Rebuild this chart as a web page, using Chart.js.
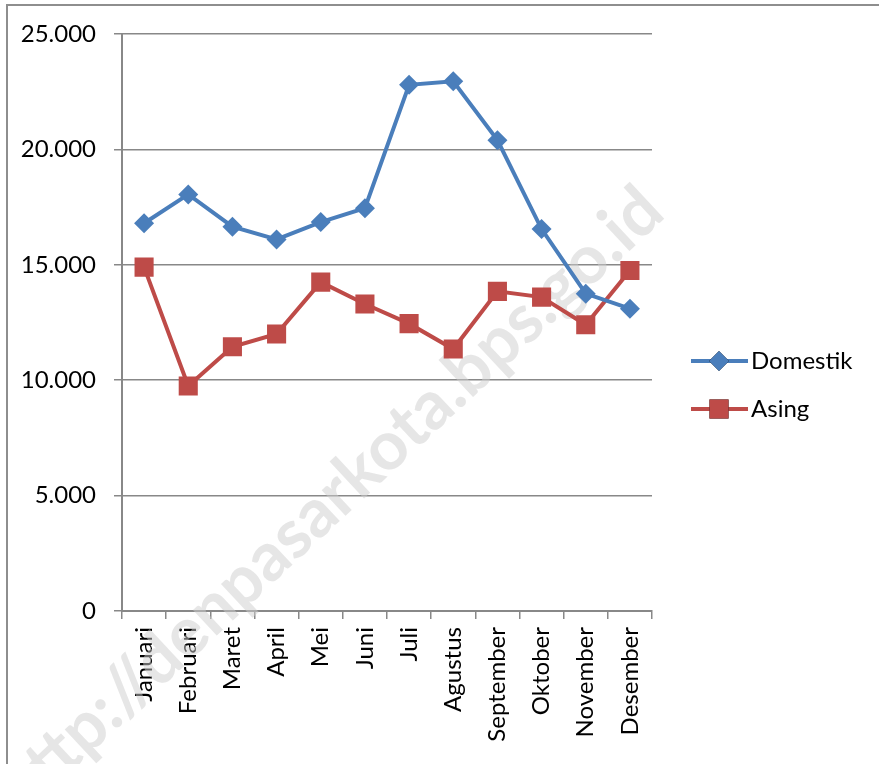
<!DOCTYPE html>
<html>
<head>
<meta charset="utf-8">
<script src="https://cdn.jsdelivr.net/npm/chart.js@4/dist/chart.umd.min.js"></script>
<style>
  html, body { margin: 0; padding: 0; overflow: hidden; background: #fff; }
  #wrap { position: relative; width: 879px; height: 764px; overflow: hidden; }
  #frame { position: absolute; left: 6px; top: 4px; width: 2000px; height: 2000px;
           border-left: 2px solid #8e8e8e; border-top: 2px solid #8e8e8e; box-sizing: border-box; }
  canvas { position: absolute; left: 0; top: 0; }
</style>
</head>
<body>
<div id="wrap">
  <div id="frame"></div>
  <canvas id="c" width="879" height="764"></canvas>
</div>
<script>
const months = ['Januari','Februari','Maret','April','Mei','Juni','Juli','Agustus','September','Oktober','November','Desember'];
const domestik = [16800, 18050, 16650, 16100, 16850, 17450, 22800, 22950, 20400, 16550, 13750, 13100];
const asing = [14900, 9750, 11450, 12000, 14250, 13300, 12450, 11350, 13850, 13600, 12400, 14750];
const seriesNames = ['Domestik', 'Asing'];
const yTicks = [0, 5000, 10000, 15000, 20000, 25000];
const watermark = 'http://denpasarkota.bps.go.id';

const BLUE = '#4A7EBB';
const RED = '#BE4B48';
const FONT = 'Lato, "Open Sans", sans-serif';

function fmt(v) {
  return String(v).replace(/\B(?=(\d{3})+(?!\d))/g, '.');
}

const watermarkPlugin = {
  id: 'watermark',
  beforeDatasetsDraw(chart) {
    const ctx = chart.ctx;
    ctx.save();
    ctx.translate(330, 500);
    ctx.rotate(-0.75);
    ctx.font = 'bold 68px ' + FONT;
    ctx.fillStyle = 'rgba(205,205,205,0.5)';
    ctx.textAlign = 'center';
    ctx.textBaseline = 'middle';
    ctx.fillText(watermark, 0, 0);
    ctx.restore();
  }
};

const legendPlugin = {
  id: 'customLegend',
  afterDraw(chart) {
    const ctx = chart.ctx;
    const items = [
      { y: 361, ds: chart.data.datasets[0] },
      { y: 409, ds: chart.data.datasets[1] }
    ];
    items.forEach(it => {
      ctx.save();
      ctx.strokeStyle = it.ds.borderColor;
      ctx.lineWidth = 4;
      ctx.beginPath();
      ctx.moveTo(691, it.y);
      ctx.lineTo(748, it.y);
      ctx.stroke();
      Chart.helpers.drawPoint(ctx, {
        pointStyle: it.ds.pointStyle,
        radius: it.ds.pointRadius,
        borderWidth: 0
      }, 719, it.y);
      ctx.fillStyle = it.ds.backgroundColor;
      ctx.fill();
      ctx.fillStyle = '#000';
      ctx.font = '24px ' + FONT;
      ctx.textBaseline = 'middle';
      ctx.textAlign = 'left';
      ctx.fillText(it.ds.label, 751, it.y);
      ctx.restore();
    });
  }
};

new Chart(document.getElementById('c'), {
  type: 'line',
  data: {
    labels: months,
    datasets: [
      {
        label: seriesNames[0],
        data: domestik,
        borderColor: BLUE,
        backgroundColor: BLUE,
        borderWidth: 4,
        pointStyle: 'rectRot',
        pointRadius: 10,
        pointHoverRadius: 10,
        pointBorderWidth: 0,
        tension: 0
      },
      {
        label: seriesNames[1],
        data: asing,
        borderColor: RED,
        backgroundColor: RED,
        borderWidth: 4,
        pointStyle: 'rect',
        pointRadius: 13.5,
        pointHoverRadius: 13.5,
        pointBorderWidth: 0,
        tension: 0
      }
    ]
  },
  options: {
    responsive: false,
    animation: false,
    devicePixelRatio: 1,
    layout: { padding: { left: 0, top: 34, right: 227, bottom: 0 } },
    plugins: {
      legend: { display: false },
      tooltip: { enabled: false }
    },
    scales: {
      x: {
        type: 'category',
        offset: true,
        grid: {
          offset: true,
          drawOnChartArea: false,
          drawTicks: true,
          tickLength: 8,
          color: '#888888',
          lineWidth: 1.5
        },
        border: { color: '#888888', width: 2 },
        ticks: {
          maxRotation: 90,
          minRotation: 90,
          autoSkip: false,
          padding: 8,
          color: '#000',
          font: { family: FONT, size: 24 }
        },
        afterFit(scale) { scale.height = 153; }
      },
      y: {
        min: 0,
        max: 25000,
        afterBuildTicks(scale) { scale.ticks = yTicks.map(v => ({ value: v })); },
        grid: {
          color: '#888888',
          lineWidth: 1.5,
          drawTicks: true,
          tickLength: 8
        },
        border: { color: '#888888', width: 2 },
        ticks: {
          padding: 18,
          color: '#000',
          font: { family: FONT, size: 24 },
          callback: (v) => fmt(v)
        },
        afterFit(scale) { scale.width = 122; }
      }
    }
  },
  plugins: [watermarkPlugin, legendPlugin]
});
</script>
</body>
</html>
